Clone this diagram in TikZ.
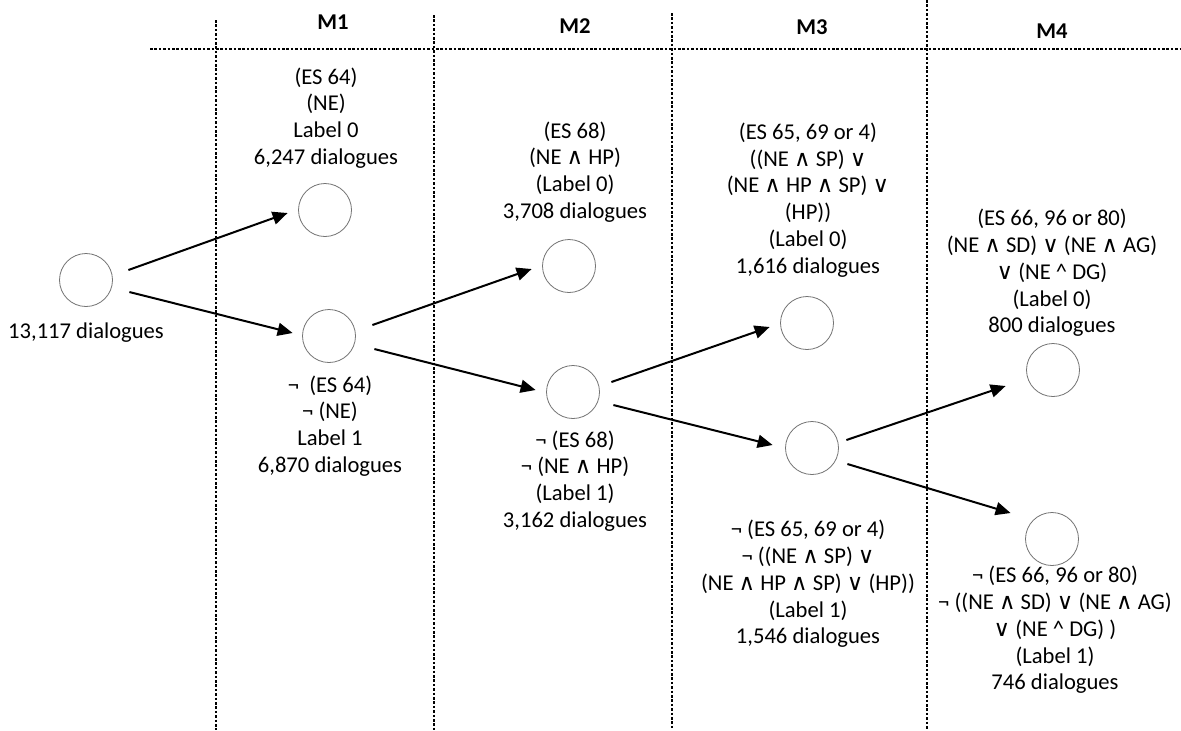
\documentclass[tikz,border=0pt]{standalone}
\usepackage{fontspec}
\setmainfont{Carlito}
\newfontfamily\symfont[Scale=1.0]{DejaVu Sans}
\usetikzlibrary{arrows.meta}
\newcommand{\andsym}{{\symfont ∧}}
\newcommand{\orsym}{{\symfont ∨}}

\begin{document}
\begin{tikzpicture}[x=0.5pt,y=-0.5pt,
    state/.style={circle,draw=black!55,line width=0.4pt,minimum size=26.5pt,inner sep=0pt},
    txt/.style={align=center,font=\fontsize{11.3}{13.35}\selectfont,inner sep=0pt},
    head/.style={font=\fontsize{11.3}{13.35}\selectfont\bfseries,inner sep=0pt},
    arr/.style={-{Triangle[length=7.5pt,width=6.5pt]},line width=1pt},
    sep/.style={dash pattern=on 1.3pt off 0.9pt,line width=0.6pt}]
    \useasboundingbox (0,0) rectangle (1181,730);
    % column separators
    \draw [sep] (150,49) -- (1181,49);
    \draw [sep] (216,20) -- (216,730);
    \draw [sep] (434,15) -- (434,730);
    \draw [sep] (672,13) -- (672,730);
    \draw [sep] (927,0) -- (927,730);
    \node [head] (hM1) at (333,22) {M1};
    \node [head] (hM2) at (575,26) {M2};
    \node [head] (hM3) at (812,27) {M3};
    \node [head] (hM4) at (1052,31) {M4};
    % states
    \node [state] (root) at (86,280) {};
    \node [state] (m1a) at (325,210) {};
    \node [state] (m1b) at (329,336) {};
    \node [state] (m2a) at (569,266) {};
    \node [state] (m2b) at (573,392) {};
    \node [state] (m3a) at (807,323) {};
    \node [state] (m3b) at (812,448) {};
    \node [state] (m4a) at (1053,370) {};
    \node [state] (m4b) at (1052,539) {};
    % labels
    \node [txt] (troot) at (86,333) {13,117 dialogues};
    \node [txt] (t1a) at (326,118) {(ES 64)\\(NE)\\Label 0\\6,247 dialogues};
    \node [txt] (t1b) at (330,426) {¬\ \ (ES 64)\\¬ (NE)\\Label 1\\6,870 dialogues};
    \node [txt] (t2a) at (575,172) {(ES 68)\\(NE \andsym{} HP)\\(Label 0)\\3,708 dialogues};
    \node [txt] (t2b) at (575,481) {¬ (ES 68)\\¬ (NE \andsym{} HP)\\(Label 1)\\3,162 dialogues};
    \node [txt] (t3a) at (808,200) {(ES 65, 69 or 4)\\((NE \andsym{} SP) \orsym\\(NE \andsym{} HP \andsym{} SP) \orsym\\(HP))\\(Label 0)\\1,616 dialogues};
    \node [txt] (t3b) at (808,584) {¬ (ES 65, 69 or 4)\\¬ ((NE \andsym{} SP) \orsym\\(NE \andsym{} HP \andsym{} SP) \orsym{} (HP))\\(Label 1)\\1,546 dialogues};
    \node [txt] (t4a) at (1052,273) {(ES 66, 96 or 80)\\(NE \andsym{} SD) \orsym{} (NE \andsym{} AG)\\\orsym{} (NE \textasciicircum{} DG)\\(Label 0)\\800 dialogues};
    \node [txt] (t4b) at (1055,630) {¬ (ES 66, 96 or 80)\\¬ ((NE \andsym{} SD) \orsym{} (NE \andsym{} AG)\\\orsym{} (NE \textasciicircum{} DG) )\\(Label 1)\\746 dialogues};
    % splits
    \draw [arr] ([shift={(15.5,-10)}]root.east) -- ([shift={(-10.5,3)}]m1a.west);
    \draw [arr] ([shift={(16.5,12)}]root.east) -- ([shift={(-9.5,-3)}]m1b.west);
    \draw [arr] ([shift={(16.5,-11)}]m1b.east) -- ([shift={(-10.5,3)}]m2a.west);
    \draw [arr] ([shift={(18.5,13)}]m1b.east) -- ([shift={(-10.5,-2)}]m2b.west);
    \draw [arr] ([shift={(11.5,-10)}]m2b.east) -- ([shift={(-10.5,4)}]m3a.west);
    \draw [arr] ([shift={(13.5,13)}]m2b.east) -- ([shift={(-12.5,-3)}]m3b.west);
    \draw [arr] ([shift={(7.5,-8)}]m3b.east) -- ([shift={(-20.5,16)}]m4a.west);
    \draw [arr] ([shift={(8.5,16)}]m3b.east) -- ([shift={(-14.5,-26)}]m4b.west);
\end{tikzpicture}
\end{document}
